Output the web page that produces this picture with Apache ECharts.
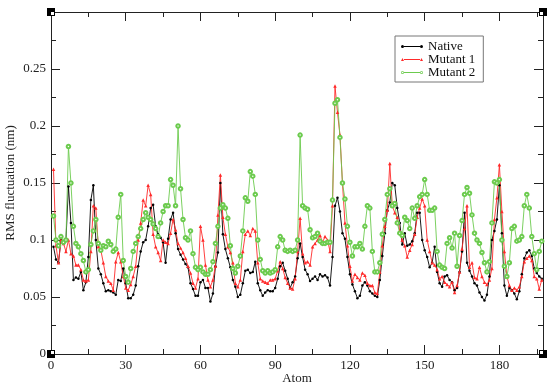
<!DOCTYPE html>
<html>
<head>
<meta charset="UTF-8">
<title>RMS fluctuation</title>
<style>
  * { margin: 0; padding: 0; }
  body { background: #fff; }
  #chart { width: 550px; height: 388px; }
</style>
<script src="https://cdn.jsdelivr.net/npm/echarts@6/dist/echarts.min.js"></script>
</head>
<body>
<div id="chart"></div>
<script>
// RMS fluctuation per atom (nm), atoms numbered from 1
const native = [
  0.094, 0.083, 0.080, 0.100, 0.097, 0.100, 0.147, 0.115, 0.065, 0.067,
  0.066, 0.072, 0.056, 0.063, 0.085, 0.135, 0.148, 0.100, 0.075, 0.070,
  0.062, 0.055, 0.056, 0.055, 0.054, 0.052, 0.065, 0.064, 0.075, 0.062,
  0.049, 0.049, 0.052, 0.060, 0.077, 0.090, 0.098, 0.100, 0.112, 0.128,
  0.131, 0.112, 0.105, 0.102, 0.098, 0.080, 0.101, 0.118, 0.124, 0.106,
  0.092, 0.087, 0.083, 0.079, 0.076, 0.062, 0.057, 0.051, 0.051, 0.063,
  0.065, 0.058, 0.058, 0.046, 0.053, 0.077, 0.089, 0.150, 0.105, 0.092,
  0.084, 0.076, 0.065, 0.059, 0.050, 0.052, 0.062, 0.073, 0.074, 0.071,
  0.072, 0.081, 0.062, 0.056, 0.051, 0.054, 0.056, 0.055, 0.055, 0.058,
  0.066, 0.077, 0.080, 0.073, 0.066, 0.058, 0.063, 0.068, 0.084, 0.097,
  0.085, 0.074, 0.070, 0.064, 0.066, 0.068, 0.065, 0.070, 0.068, 0.069,
  0.067, 0.060, 0.085, 0.130, 0.137, 0.125, 0.106, 0.101, 0.085, 0.070,
  0.061, 0.055, 0.049, 0.051, 0.060, 0.063, 0.060, 0.055, 0.053, 0.051,
  0.050, 0.065, 0.086, 0.106, 0.126, 0.133, 0.150, 0.148, 0.128, 0.115,
  0.096, 0.106, 0.095, 0.096, 0.099, 0.106, 0.124, 0.124, 0.100, 0.091,
  0.085, 0.076, 0.080, 0.094, 0.072, 0.062, 0.059, 0.068, 0.069, 0.065,
  0.063, 0.056, 0.058, 0.072, 0.090, 0.124, 0.080, 0.073, 0.068, 0.062,
  0.060, 0.054, 0.050, 0.047, 0.052, 0.068, 0.100, 0.108, 0.118, 0.148,
  0.106, 0.060, 0.051, 0.058, 0.056, 0.053, 0.048, 0.055, 0.070, 0.084,
  0.089, 0.091, 0.086, 0.075, 0.071, 0.068, 0.066
];
const mutant1 = [
  0.162, 0.095, 0.080, 0.100, 0.097, 0.090, 0.100, 0.088, 0.086, 0.078,
  0.078, 0.074, 0.065, 0.064, 0.065, 0.090, 0.130, 0.128, 0.094, 0.091,
  0.080, 0.068, 0.064, 0.062, 0.056, 0.081, 0.089, 0.081, 0.068, 0.058,
  0.056, 0.061, 0.068, 0.077, 0.100, 0.115, 0.135, 0.130, 0.148, 0.140,
  0.105, 0.094, 0.089, 0.082, 0.100, 0.098, 0.097, 0.106, 0.118, 0.109,
  0.097, 0.093, 0.089, 0.084, 0.077, 0.071, 0.062, 0.058, 0.066, 0.112,
  0.100, 0.078, 0.065, 0.059, 0.065, 0.077, 0.122, 0.157, 0.120, 0.105,
  0.094, 0.089, 0.080, 0.062, 0.059, 0.065, 0.090, 0.105, 0.108, 0.104,
  0.110, 0.108, 0.080, 0.066, 0.064, 0.063, 0.062, 0.065, 0.065, 0.066,
  0.073, 0.081, 0.075, 0.067, 0.062, 0.058, 0.057, 0.066, 0.090, 0.119,
  0.088, 0.080, 0.081, 0.078, 0.094, 0.097, 0.100, 0.104, 0.098, 0.103,
  0.100, 0.090, 0.130, 0.235, 0.212, 0.192, 0.150, 0.115, 0.095, 0.077,
  0.064, 0.070, 0.067, 0.065, 0.071, 0.069, 0.062, 0.060, 0.060, 0.054,
  0.053, 0.072, 0.095, 0.112, 0.126, 0.167, 0.130, 0.124, 0.120, 0.108,
  0.100, 0.095, 0.085, 0.091, 0.096, 0.105, 0.120, 0.128, 0.136, 0.130,
  0.100, 0.090, 0.080, 0.078, 0.074, 0.066, 0.068, 0.063, 0.061, 0.059,
  0.063, 0.054, 0.060, 0.072, 0.092, 0.110, 0.130, 0.076, 0.080, 0.067,
  0.066, 0.076, 0.068, 0.063, 0.061, 0.065, 0.075, 0.118, 0.137, 0.166,
  0.125, 0.090, 0.068, 0.060, 0.056, 0.058, 0.056, 0.059, 0.068, 0.081,
  0.084, 0.086, 0.082, 0.068, 0.066, 0.057, 0.065
];
const mutant2 = [
  0.121, 0.100, 0.095, 0.103, 0.098, 0.100, 0.182, 0.150, 0.112, 0.097,
  0.094, 0.088, 0.082, 0.072, 0.074, 0.096, 0.108, 0.118, 0.097, 0.091,
  0.095, 0.094, 0.099, 0.096, 0.090, 0.092, 0.120, 0.140, 0.082, 0.068,
  0.063, 0.075, 0.090, 0.097, 0.103, 0.110, 0.118, 0.124, 0.120, 0.118,
  0.114, 0.110, 0.103, 0.115, 0.125, 0.130, 0.130, 0.153, 0.148, 0.130,
  0.200, 0.145, 0.118, 0.102, 0.100, 0.108, 0.088, 0.076, 0.074, 0.076,
  0.072, 0.070, 0.070, 0.074, 0.081, 0.097, 0.112, 0.128, 0.131, 0.128,
  0.119, 0.095, 0.075, 0.071, 0.077, 0.086, 0.108, 0.137, 0.134, 0.160,
  0.156, 0.140, 0.100, 0.083, 0.073, 0.071, 0.073, 0.071, 0.072, 0.074,
  0.094, 0.103, 0.100, 0.091, 0.090, 0.091, 0.090, 0.091, 0.100, 0.192,
  0.130, 0.128, 0.127, 0.109, 0.102, 0.103, 0.106, 0.099, 0.097, 0.097,
  0.098, 0.098, 0.135, 0.220, 0.223, 0.190, 0.150, 0.136, 0.112, 0.098,
  0.086, 0.094, 0.094, 0.097, 0.092, 0.112, 0.130, 0.128, 0.090, 0.072,
  0.072, 0.080, 0.105, 0.118, 0.140, 0.145, 0.130, 0.132, 0.115, 0.106,
  0.104, 0.120, 0.117, 0.110, 0.128, 0.119, 0.130, 0.138, 0.140, 0.153,
  0.140, 0.126, 0.126, 0.128, 0.090, 0.078, 0.076, 0.075, 0.097, 0.102,
  0.093, 0.106, 0.077, 0.104, 0.117, 0.140, 0.146, 0.141, 0.122, 0.106,
  0.100, 0.097, 0.089, 0.080, 0.072, 0.081, 0.115, 0.151, 0.150, 0.153,
  0.100, 0.077, 0.068, 0.080, 0.110, 0.112, 0.099, 0.100, 0.103, 0.130,
  0.140, 0.128, 0.103, 0.088, 0.074, 0.090, 0.099
];
const seriesNames = ['Native', 'Mutant 1', 'Mutant 2'];

const X_MAX = 197.5;
const FONT = 'Liberation Serif';
const GREEN = '#6ccb4e';
const RED = '#ff2a2a';

// legend keys: short line with a marker at each end (22 x 3 box)
const BAR = 'M3,1.1H19V1.9H3Z';
const legendIcons = [
  'path://' + BAR + 'M0,1.5a1.5,1.5 0 1,0 3,0a1.5,1.5 0 1,0 -3,0Z M19,1.5a1.5,1.5 0 1,0 3,0a1.5,1.5 0 1,0 -3,0Z',
  'path://' + BAR + 'M0,3L1.5,0L3,3Z M19,3L20.5,0L22,3Z',
  'path://' + BAR + 'M0,1.5a1.5,1.5 0 1,0 3,0a1.5,1.5 0 1,0 -3,0Z M0.7,1.5a0.8,0.8 0 1,1 1.6,0a0.8,0.8 0 1,1 -1.6,0Z' +
    'M19,1.5a1.5,1.5 0 1,0 3,0a1.5,1.5 0 1,0 -3,0Z M19.7,1.5a0.8,0.8 0 1,1 1.6,0a0.8,0.8 0 1,1 -1.6,0Z'
];

function pairs(arr) { return arr.map((v, i) => [i + 1, v]); }

const chart = echarts.init(document.getElementById('chart'), null, { renderer: 'canvas' });

const axisLine = { show: true, onZero: false, lineStyle: { color: '#222', width: 1 } };
const xCommon = { type: 'value', min: 0, max: X_MAX, splitLine: { show: false }, axisLine };
const yCommon = { type: 'value', min: 0, max: 0.3, interval: 0.05, splitLine: { show: false }, axisLine,
  axisTick: { inside: true, length: 9, lineStyle: { color: '#222' } },
  minorTick: { show: true, splitNumber: 2, length: 5, lineStyle: { color: '#222' } } };

// black corner handles with a small white notch on the plot side
function handle(x, y, nx, ny) {
  return [
    { type: 'rect', left: x, top: y, shape: { width: 8, height: 8 }, style: { fill: '#000' }, z: 100 },
    { type: 'rect', left: x + nx, top: y + ny, shape: { width: 3, height: 3 }, style: { fill: '#fff' }, z: 101 }
  ];
}

chart.setOption({
  animation: false,
  backgroundColor: '#fff',
  grid: { left: 51, right: 7, top: 12, bottom: 34, outerBoundsMode: 'none' },
  legend: {
    orient: 'vertical', left: 395, top: 36,
    data: seriesNames.map((n, i) => ({ name: n, icon: legendIcons[i] })),
    backgroundColor: '#fff', borderColor: '#777', borderWidth: 1,
    padding: [4, 8, 3, 6], itemGap: 0, itemWidth: 22, itemHeight: 3,
    itemStyle: { borderWidth: 0 },
    textStyle: { fontFamily: FONT, fontSize: 13, color: '#111', lineHeight: 12 }
  },
  xAxis: [
    { ...xCommon, position: 'bottom', interval: 30,
      axisTick: { inside: true, length: 9, lineStyle: { color: '#222' } },
      axisLabel: { margin: 5, fontFamily: FONT, fontSize: 13, color: '#222',
        formatter: v => (v % 30 === 0 ? String(v) : '') },
      name: 'Atom', nameLocation: 'middle', nameGap: 18, nameMoveOverlap: false,
      nameTextStyle: { fontFamily: FONT, fontSize: 13, color: '#222' } },
    { ...xCommon, position: 'bottom', interval: 15,
      axisTick: { inside: true, length: 5, lineStyle: { color: '#222' } }, axisLabel: { show: false } },
    { ...xCommon, position: 'top', interval: 30,
      axisTick: { inside: true, length: 9, lineStyle: { color: '#222' } }, axisLabel: { show: false } },
    { ...xCommon, position: 'top', interval: 15,
      axisTick: { inside: true, length: 5, lineStyle: { color: '#222' } }, axisLabel: { show: false } }
  ],
  yAxis: [
    { ...yCommon, position: 'left',
      axisLabel: { margin: 5, fontFamily: FONT, fontSize: 13, color: '#222',
        formatter: v => (v > 0.29 ? '' : String(+v.toFixed(2))) },
      name: 'RMS fluctuation (nm)', nameLocation: 'middle', nameGap: 34, nameMoveOverlap: false,
      nameTextStyle: { fontFamily: FONT, fontSize: 13, color: '#222' } },
    { ...yCommon, position: 'right', axisLabel: { show: false } }
  ],
  series: [
    { name: seriesNames[0], type: 'line', data: pairs(native),
      symbol: 'circle', symbolSize: 2.5, showAllSymbol: true,
      lineStyle: { color: '#000', width: 0.9 }, itemStyle: { color: '#000' } },
    { name: seriesNames[1], type: 'line', data: pairs(mutant1),
      symbol: 'triangle', symbolSize: 3.5, showAllSymbol: true,
      lineStyle: { color: RED, width: 0.9 }, itemStyle: { color: RED } },
    { name: seriesNames[2], type: 'line', data: pairs(mutant2),
      symbol: 'emptyCircle', symbolSize: 3.5, showAllSymbol: true,
      lineStyle: { color: GREEN, width: 0.9 }, itemStyle: { color: GREEN, borderWidth: 0.8 } }
  ],
  graphic: [
    ...handle(47, 8, 4, 4),
    ...handle(47, 350, 4, 1),
    ...handle(539, 8, 1, 4),
    ...handle(539, 350, 1, 1)
  ]
});
</script>
</body>
</html>
